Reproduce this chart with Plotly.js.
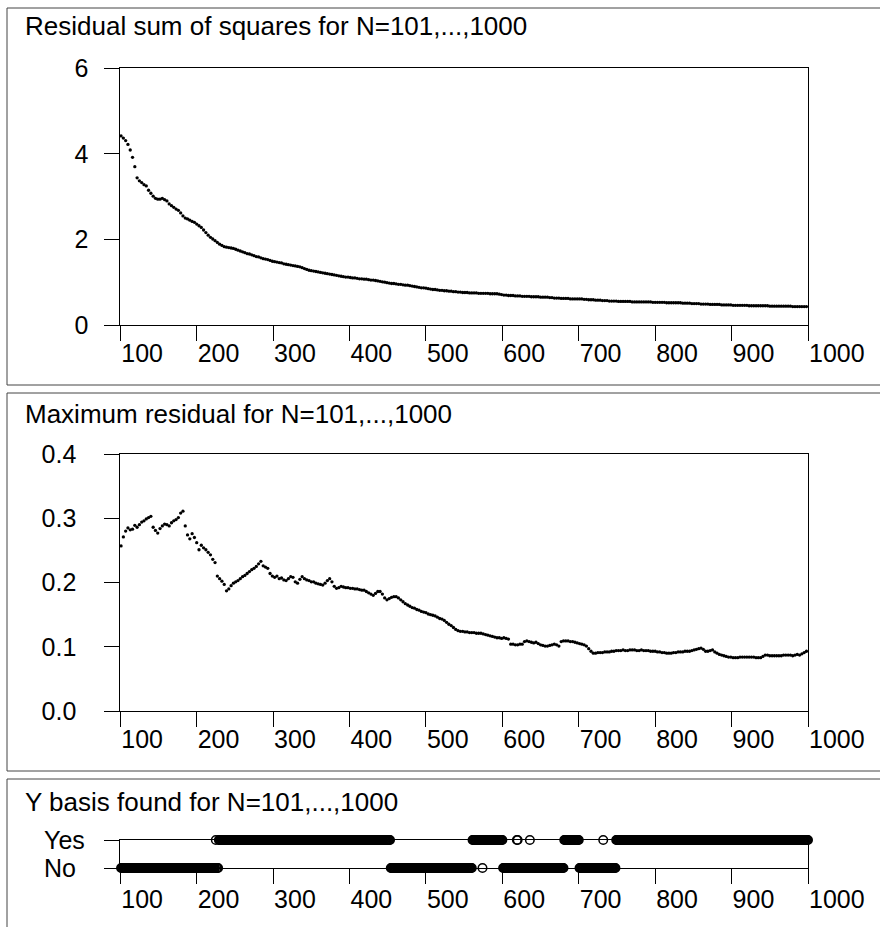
<!DOCTYPE html>
<html><head><meta charset="utf-8">
<script src="https://cdn.plot.ly/plotly-3.0.1.min.js"></script>
<style>html,body{margin:0;padding:0;background:#fff;}#chart{width:880px;height:927px;}</style>
</head><body><div id="chart"></div>
<script>
// N values: 101, 104, ..., 998 (every third N)
const nFirst = 101;
const nStep = 3;

const rss = [
4.42,4.37,4.31,4.22,4.09,3.92,3.70,3.44,3.37,3.33,
3.28,3.25,3.15,3.08,3.01,2.96,2.94,2.94,2.96,2.93,
2.90,2.83,2.79,2.75,2.71,2.68,2.62,2.55,2.50,2.48,
2.45,2.42,2.40,2.36,2.32,2.28,2.22,2.16,2.10,2.05,
2.01,1.97,1.93,1.89,1.86,1.83,1.82,1.81,1.80,1.79,
1.77,1.75,1.73,1.71,1.69,1.67,1.66,1.64,1.62,1.60,
1.59,1.57,1.55,1.54,1.53,1.51,1.49,1.48,1.47,1.46,
1.45,1.43,1.42,1.41,1.40,1.39,1.38,1.37,1.36,1.34,
1.32,1.30,1.28,1.27,1.26,1.25,1.24,1.23,1.22,1.21,
1.20,1.19,1.18,1.17,1.16,1.15,1.14,1.13,1.12,1.12,
1.11,1.10,1.10,1.09,1.08,1.08,1.07,1.07,1.06,1.05,
1.05,1.04,1.03,1.02,1.01,1.00,0.99,0.98,0.97,0.97,
0.96,0.95,0.95,0.94,0.93,0.93,0.92,0.91,0.90,0.89,
0.88,0.87,0.87,0.86,0.85,0.84,0.83,0.83,0.82,0.81,
0.81,0.80,0.80,0.79,0.79,0.78,0.78,0.77,0.77,0.76,
0.76,0.76,0.75,0.75,0.75,0.75,0.74,0.74,0.74,0.74,
0.74,0.73,0.73,0.73,0.73,0.72,0.71,0.70,0.70,0.69,
0.69,0.69,0.68,0.68,0.68,0.67,0.67,0.67,0.67,0.66,
0.66,0.66,0.66,0.65,0.65,0.65,0.65,0.64,0.64,0.63,
0.63,0.63,0.62,0.62,0.62,0.62,0.61,0.61,0.61,0.61,
0.61,0.61,0.60,0.60,0.59,0.59,0.59,0.58,0.58,0.58,
0.57,0.57,0.57,0.56,0.56,0.56,0.56,0.55,0.55,0.55,
0.55,0.55,0.55,0.54,0.54,0.54,0.54,0.54,0.54,0.54,
0.54,0.54,0.53,0.53,0.53,0.53,0.53,0.53,0.52,0.52,
0.52,0.52,0.52,0.52,0.52,0.51,0.51,0.51,0.51,0.50,
0.50,0.50,0.50,0.49,0.49,0.49,0.49,0.48,0.48,0.48,
0.48,0.48,0.47,0.47,0.47,0.47,0.47,0.46,0.46,0.46,
0.46,0.46,0.46,0.46,0.45,0.45,0.45,0.45,0.45,0.45,
0.45,0.45,0.45,0.44,0.44,0.44,0.44,0.44,0.44,0.44,
0.44,0.44,0.44,0.43,0.43,0.43,0.43,0.43,0.43,0.43
];

const maxResid = [
0.257,0.271,0.280,0.285,0.282,0.283,0.289,0.286,0.290,0.294,
0.296,0.299,0.301,0.303,0.286,0.281,0.277,0.284,0.288,0.291,
0.290,0.288,0.293,0.296,0.298,0.301,0.308,0.311,0.288,0.274,
0.268,0.276,0.270,0.262,0.251,0.258,0.254,0.251,0.247,0.243,
0.236,0.231,0.210,0.206,0.202,0.197,0.187,0.190,0.195,0.199,
0.201,0.203,0.206,0.209,0.211,0.214,0.217,0.220,0.222,0.225,
0.229,0.233,0.226,0.224,0.222,0.214,0.210,0.208,0.210,0.206,
0.207,0.204,0.203,0.206,0.209,0.208,0.201,0.199,0.205,0.209,
0.206,0.204,0.203,0.201,0.201,0.199,0.198,0.197,0.196,0.199,
0.203,0.206,0.201,0.194,0.191,0.192,0.194,0.193,0.192,0.192,
0.191,0.191,0.190,0.190,0.189,0.188,0.188,0.186,0.184,0.182,
0.180,0.183,0.186,0.186,0.182,0.176,0.173,0.175,0.177,0.178,
0.178,0.176,0.173,0.170,0.167,0.165,0.163,0.161,0.160,0.158,
0.157,0.155,0.154,0.153,0.151,0.150,0.149,0.148,0.146,0.144,
0.143,0.141,0.138,0.135,0.133,0.130,0.127,0.125,0.124,0.124,
0.123,0.123,0.122,0.122,0.122,0.121,0.121,0.121,0.120,0.119,
0.118,0.117,0.116,0.115,0.114,0.114,0.113,0.114,0.113,0.112,
0.104,0.104,0.103,0.103,0.104,0.104,0.108,0.109,0.108,0.107,
0.106,0.107,0.105,0.103,0.102,0.101,0.101,0.102,0.103,0.104,
0.103,0.101,0.108,0.109,0.109,0.109,0.108,0.108,0.107,0.106,
0.105,0.104,0.103,0.101,0.097,0.093,0.090,0.090,0.091,0.091,
0.091,0.092,0.092,0.092,0.093,0.093,0.094,0.094,0.094,0.095,
0.094,0.094,0.095,0.095,0.095,0.094,0.094,0.095,0.094,0.094,
0.094,0.093,0.093,0.093,0.092,0.092,0.091,0.091,0.090,0.090,
0.090,0.091,0.091,0.092,0.092,0.092,0.093,0.093,0.093,0.094,
0.095,0.096,0.097,0.098,0.096,0.093,0.093,0.094,0.095,0.092,
0.090,0.088,0.087,0.086,0.085,0.084,0.084,0.083,0.083,0.083,
0.084,0.084,0.084,0.084,0.084,0.084,0.084,0.083,0.083,0.083,
0.085,0.087,0.087,0.086,0.086,0.086,0.086,0.086,0.086,0.087,
0.087,0.087,0.087,0.086,0.087,0.088,0.087,0.089,0.091,0.093
];

// Y basis found: runs of identical outcome, N = 101..1000
const basisRunStart = [101,225,226,229,454,561,574,575,601,619,621,636,637,681,701,732,733,749];
const basisRunValue = ['No','Yes','No','Yes','No','Yes','No','Yes','No','Yes','No','Yes','No','Yes','No','Yes','No','Yes'];
const basisLastN = 1000;
const basisLevels = ['No','Yes'];

const panelTitles = [
  'Residual sum of squares for N=101,...,1000',
  'Maximum residual for N=101,...,1000',
  'Y basis found for N=101,...,1000'
];
const xTickVals = [100,200,300,400,500,600,700,800,900,1000];

// ---- build traces ----
const nVals = rss.map((_, i) => nFirst + nStep * i);
const basisN = [], basisY = [];
for (let r = 0; r < basisRunStart.length; r++) {
  const end = r + 1 < basisRunStart.length ? basisRunStart[r + 1] - 1 : basisLastN;
  for (let n = basisRunStart[r]; n <= end; n++) { basisN.push(n); basisY.push(basisRunValue[r]); }
}

const W = 880, H = 927;
const px = v => v / W;
const py = v => 1 - v / H;

const FONT = 'Liberation Sans, Arial, Helvetica, sans-serif';

const traces = [
  {x: nVals, y: rss, xaxis: 'x', yaxis: 'y', type: 'scatter', mode: 'markers',
   marker: {size: 3.3, color: '#000'}, cliponaxis: false, hoverinfo: 'skip'},
  {x: nVals, y: maxResid, xaxis: 'x2', yaxis: 'y2', type: 'scatter', mode: 'markers',
   marker: {size: 3.3, color: '#000'}, cliponaxis: false, hoverinfo: 'skip'},
  {x: basisN, y: basisY, xaxis: 'x3', yaxis: 'y3', type: 'scatter', mode: 'markers',
   marker: {symbol: 'circle-open', size: 8.5, color: '#000', line: {width: 1.5, color: '#000'}},
   cliponaxis: false, hoverinfo: 'skip'}
];

const xDom = [px(120.3), px(808)];
function xAxis(anchor, standoff) {
  return {
    domain: xDom, anchor: anchor, range: [100, 1000], tickvals: xTickVals,
    ticks: 'outside', ticklen: 15, tickwidth: 1, tickcolor: '#000',
    showline: true, linecolor: '#000', linewidth: 1, mirror: true,
    showgrid: false, zeroline: false, ticklabelposition: 'outside right',
    tickfont: {family: FONT, size: 25, color: '#000'}, ticklabelstandoff: standoff
  };
}
function yAxis(anchor, dom, extra) {
  return Object.assign({
    domain: dom, anchor: anchor,
    ticks: 'outside', ticklen: 15, tickwidth: 1, tickcolor: '#000',
    showline: true, linecolor: '#000', linewidth: 1, mirror: true,
    showgrid: false, zeroline: false,
    tickfont: {family: FONT, size: 25, color: '#000'}
  }, extra);
}

const frameColor = '#444';
const shapes = [
  {type: 'rect', xref: 'paper', yref: 'paper', x0: px(7), x1: px(890), y0: py(385), y1: py(8), line: {color: frameColor, width: 1}},
  {type: 'rect', xref: 'paper', yref: 'paper', x0: px(7), x1: px(890), y0: py(771), y1: py(393), line: {color: frameColor, width: 1}},
  {type: 'rect', xref: 'paper', yref: 'paper', x0: px(7), x1: px(890), y0: py(940), y1: py(779), line: {color: frameColor, width: 1}}
];

const titleY = [26.5, 413.5, 801.5];
const annotations = panelTitles.map((t, i) => ({
  text: t, xref: 'paper', yref: 'paper', x: px(23), y: py(titleY[i]),
  xanchor: 'left', yanchor: 'middle', showarrow: false,
  font: {family: FONT, size: 26, color: '#000'}
}));
basisLevels.forEach(lv => annotations.push({
  text: lv, xref: 'paper', yref: 'y3', x: px(42), y: lv,
  xanchor: 'left', yanchor: 'middle', showarrow: false,
  font: {family: FONT, size: 25, color: '#000'}
}));

const layout = {
  width: W, height: H, margin: {l: 0, r: 0, t: 0, b: 0},
  paper_bgcolor: '#fff', plot_bgcolor: '#fff', showlegend: false,
  font: {family: FONT, color: '#000'},
  xaxis: xAxis('y', 6), xaxis2: xAxis('y2', 6), xaxis3: xAxis('y3', 9),
  yaxis: yAxis('x', [py(325), py(68.3)], {range: [0, 6], tickvals: [0, 2, 4, 6], ticklabelstandoff: 11}),
  yaxis2: yAxis('x2', [py(711), py(454)], {range: [0, 0.4], tickvals: [0, 0.1, 0.2, 0.3, 0.4], tickformat: '.1f', ticklabelstandoff: 23}),
  yaxis3: yAxis('x3', [py(868), py(840)], {type: 'category', categoryorder: 'array', categoryarray: basisLevels,
    range: [0, 1], tickvals: basisLevels, showticklabels: false}),
  shapes: shapes, annotations: annotations
};

Plotly.newPlot('chart', traces, layout, {staticPlot: true, displayModeBar: false});
</script>
</body></html>
